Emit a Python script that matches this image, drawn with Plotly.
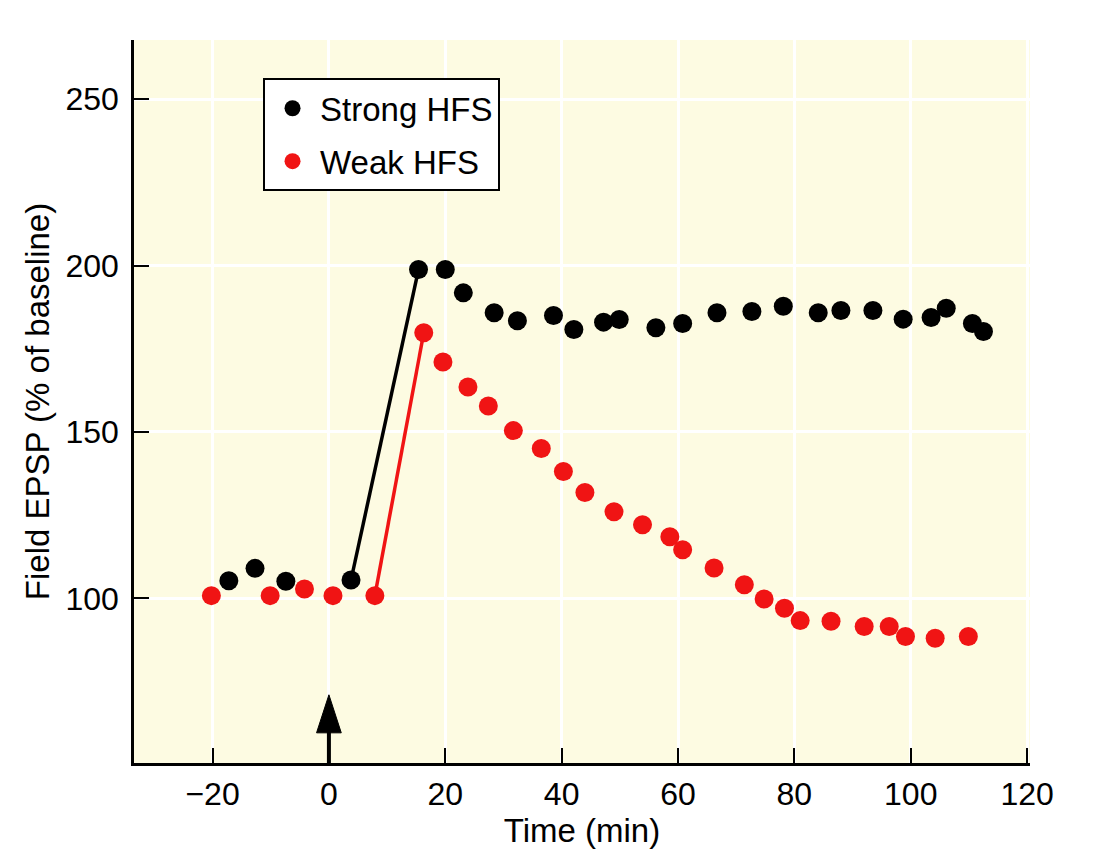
import plotly.graph_objects as go

# ---- data ----
strong_x = [-17.2, -12.7, -7.4, 3.8, 15.4, 20.0, 23.1, 28.4, 32.4, 38.6, 42.1, 47.2, 49.9,
            56.2, 60.8, 66.7, 72.7, 78.1, 84.1, 88.0, 93.5, 98.7, 103.5, 106.1, 110.6, 112.5]
strong_y = [105.3, 109.0, 105.1, 105.5, 198.8, 198.8, 191.8, 185.8, 183.4, 185.0, 180.8, 183.0, 183.8,
            181.3, 182.6, 185.8, 186.2, 187.8, 185.8, 186.5, 186.5, 183.9, 184.4, 187.2, 182.6, 180.2]

weak_x = [-20.2, -10.1, -4.2, 0.7, 7.9, 16.3, 19.6, 23.9, 27.4, 31.7, 36.5, 40.3, 44.0, 49.0,
          53.9, 58.6, 60.8, 66.2, 71.4, 74.8, 78.3, 81.0, 86.3, 92.0, 96.3, 99.1, 104.2, 109.9]
weak_y = [100.8, 100.8, 102.8, 100.8, 100.8, 179.8, 171.0, 163.5, 157.8, 150.4, 145.0, 138.1, 131.8, 126.0,
          122.1, 118.5, 114.6, 109.1, 104.1, 99.8, 97.0, 93.3, 93.1, 91.5, 91.5, 88.5, 88.0, 88.5]

# indices of the points joined by the rising line (last baseline point -> first post-HFS point)
strong_jump = (3, 5)
weak_jump = (4, 6)

x_ticks = [-20, 0, 20, 40, 60, 80, 100, 120]
y_ticks = [100, 150, 200, 250]
x_range = [-33.5, 120.5]
y_range = [50.5, 267.8]

stim_time = 0      # HFS delivered at t = 0 (arrow)
arrow_tip = 71     # arrow tip height (% of baseline)

series_names = ["Strong HFS", "Weak HFS"]
BLACK = "#000000"
RED = "#f01414"
BG = "#fdfbe2"
FONT = "Liberation Sans, Arial, Helvetica, sans-serif"
TICK_FS = 32
TITLE_FS = 33

fig = go.Figure()

# rising line segments
fig.add_trace(go.Scatter(x=strong_x[strong_jump[0]:strong_jump[1]],
                         y=strong_y[strong_jump[0]:strong_jump[1]],
                         mode="lines", line=dict(color=BLACK, width=3.5),
                         showlegend=False, hoverinfo="skip"))
fig.add_trace(go.Scatter(x=weak_x[weak_jump[0]:weak_jump[1]],
                         y=weak_y[weak_jump[0]:weak_jump[1]],
                         mode="lines", line=dict(color=RED, width=3.5),
                         showlegend=False, hoverinfo="skip"))

# stimulation arrow
fig.add_trace(go.Scatter(x=[stim_time, stim_time], y=[y_range[0], arrow_tip],
                         mode="lines+markers",
                         line=dict(color=BLACK, width=4),
                         marker=dict(symbol=["circle", "arrow"], size=[0, 40], color=BLACK,
                                     opacity=1, line=dict(width=1, color=BLACK)),
                         opacity=1,
                         showlegend=False, hoverinfo="skip", cliponaxis=False))

fig.add_trace(go.Scatter(x=strong_x, y=strong_y, mode="markers", name=series_names[0],
                         legendgroup="a",
                         marker=dict(color=BLACK, size=19, line=dict(width=0))))
fig.add_trace(go.Scatter(x=weak_x, y=weak_y, mode="markers", name=series_names[1],
                         legendgroup="b",
                         marker=dict(color=RED, size=19, line=dict(width=0))))

# note: the page body adds an 8px offset, margins compensate for it
fig.update_layout(
    width=1106, height=862,
    margin=dict(l=126, r=84, t=32, b=107),
    paper_bgcolor="white",
    plot_bgcolor=BG,
    font=dict(family=FONT, size=TICK_FS, color="black"),
    showlegend=True,
    legend=dict(x=0.144, y=0.947, xanchor="left", yanchor="top",
                bgcolor="white", bordercolor="black", borderwidth=2,
                font=dict(family=FONT, size=TITLE_FS, color="black"),
                traceorder="grouped", tracegroupgap=7, itemwidth=45),
)

fig.update_xaxes(range=x_range, tickvals=x_ticks, ticks="inside", ticklen=15, tickwidth=2,
                 tickcolor="black", showline=True, linecolor="black", linewidth=2.5,
                 mirror=False, showgrid=True, gridcolor="white", gridwidth=3,
                 zeroline=False, ticklabelstandoff=1,
                 title=dict(text="Time (min)", standoff=8, font=dict(size=TITLE_FS)),
                 tickfont=dict(size=TICK_FS))
fig.update_yaxes(range=y_range, tickvals=y_ticks, ticks="inside", ticklen=15, tickwidth=2,
                 tickcolor="black", showline=True, linecolor="black", linewidth=2.5,
                 mirror=False, showgrid=True, gridcolor="white", gridwidth=3,
                 zeroline=False, ticklabelstandoff=6,
                 title=dict(text="Field EPSP (% of baseline)", standoff=6, font=dict(size=TITLE_FS)),
                 tickfont=dict(size=TICK_FS))

fig.write_html("out.html")
